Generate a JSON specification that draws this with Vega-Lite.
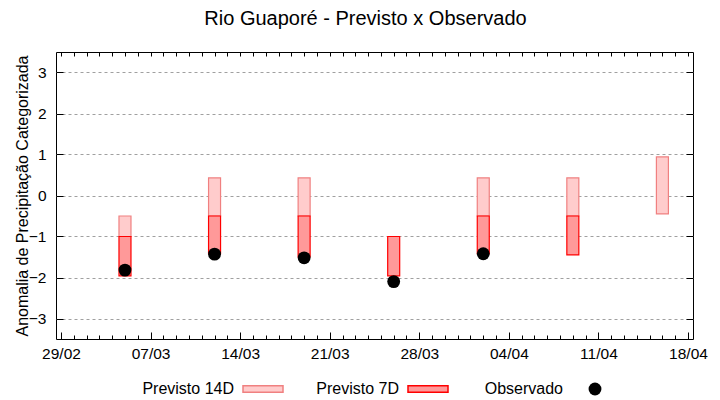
{
  "$schema": "https://vega.github.io/schema/vega-lite/v6.json",
  "width": 637,
  "height": 287,
  "padding": {"left": 14, "top": 8, "right": 5, "bottom": 0},
  "background": "white",
  "title": {"text": "Rio Guaporé - Previsto x Observado", "font": "Liberation Sans", "fontSize": 20, "fontWeight": "normal", "color": "#000000", "anchor": "middle", "dx": -9, "offset": 23},
  "config": {
    "view": {"stroke": "#000000", "strokeWidth": 1},
    "font": "Liberation Sans",
    "axis": {"labelFont": "Liberation Sans", "titleFont": "Liberation Sans", "labelColor": "#000000", "titleColor": "#000000", "domain": false, "tickColor": "#000000"},
    "legend": {"labelFont": "Liberation Sans", "labelFontSize": 16, "labelColor": "#000000", "title": null}
  },
  "data": {"values": [
    {"data": "2024-03-05", "serie": "Previsto 14D", "lo": -1.0, "hi": -0.5},
    {"data": "2024-03-12", "serie": "Previsto 14D", "lo": -0.5, "hi": 0.43},
    {"data": "2024-03-19", "serie": "Previsto 14D", "lo": -0.5, "hi": 0.43},
    {"data": "2024-04-02", "serie": "Previsto 14D", "lo": -0.5, "hi": 0.43},
    {"data": "2024-04-09", "serie": "Previsto 14D", "lo": -0.5, "hi": 0.43},
    {"data": "2024-04-16", "serie": "Previsto 14D", "lo": -0.45, "hi": 0.94},
    {"data": "2024-03-05", "serie": "Previsto 7D", "lo": -1.96, "hi": -1.0},
    {"data": "2024-03-12", "serie": "Previsto 7D", "lo": -1.42, "hi": -0.5},
    {"data": "2024-03-19", "serie": "Previsto 7D", "lo": -1.5, "hi": -0.5},
    {"data": "2024-03-26", "serie": "Previsto 7D", "lo": -1.96, "hi": -1.0},
    {"data": "2024-04-02", "serie": "Previsto 7D", "lo": -1.42, "hi": -0.5},
    {"data": "2024-04-09", "serie": "Previsto 7D", "lo": -1.45, "hi": -0.5},
    {"data": "2024-03-05", "tipo": "Observado", "valor": -1.82},
    {"data": "2024-03-12", "tipo": "Observado", "valor": -1.43},
    {"data": "2024-03-19", "tipo": "Observado", "valor": -1.52},
    {"data": "2024-03-26", "tipo": "Observado", "valor": -2.1},
    {"data": "2024-04-02", "tipo": "Observado", "valor": -1.42}
  ]},
  "layer": [
    {
      "transform": [{"filter": "datum.serie === 'Previsto 14D'"}],
      "mark": {"type": "bar", "size": 12, "strokeWidth": 1.2},
      "encoding": {
        "x": {"field": "data", "type": "temporal", "scale": {"type": "utc", "domain": [{"year": 2024, "month": 2, "date": 29, "utc": true}, {"year": 2024, "month": 4, "date": 18, "utc": true}]}, "axis": {"orient": "bottom", "values": [
          {"year": 2024, "month": 2, "date": 29, "utc": true},
          {"year": 2024, "month": 3, "date": 7, "utc": true},
          {"year": 2024, "month": 3, "date": 14, "utc": true},
          {"year": 2024, "month": 3, "date": 21, "utc": true},
          {"year": 2024, "month": 3, "date": 28, "utc": true},
          {"year": 2024, "month": 4, "date": 4, "utc": true},
          {"year": 2024, "month": 4, "date": 11, "utc": true},
          {"year": 2024, "month": 4, "date": 18, "utc": true}],
          "format": "%d/%m", "title": null, "grid": false, "tickSize": -7, "labelPadding": 14, "labelFontSize": 15.5, "labelFlush": false, "labelOverlap": false}},
        "y": {"field": "lo", "type": "quantitative", "scale": {"domain": [-3.5, 3.5], "nice": false, "zero": false}, "axis": {"orient": "left", "values": [-3, -2, -1, 0, 1, 2, 3], "title": "Anomalia de Precipitação Categorizada", "titleFontSize": 16, "titleFontWeight": "normal", "titlePadding": -2, "labelFontSize": 15.5, "tickSize": -7, "labelPadding": 17, "grid": true, "gridColor": "#a0a0a0", "gridDash": [3, 3], "gridWidth": 1}},
        "y2": {"field": "hi"},
        "fill": {"field": "serie", "type": "nominal", "scale": {"domain": ["Previsto 14D", "Previsto 7D"], "range": ["#ffcccc", "#ff9999"]},
          "legend": {"orient": "none", "legendX": 186, "legendY": 316, "direction": "horizontal", "symbolType": "M-1,-0.16H1V0.16H-1Z", "symbolSize": 1600, "symbolStrokeWidth": 1.5, "labelAlign": "right", "labelOffset": -50, "columnPadding": 30, "labelLimit": 200}},
        "stroke": {"field": "serie", "type": "nominal", "scale": {"domain": ["Previsto 14D", "Previsto 7D"], "range": ["#f08080", "#ff0000"]},
          "legend": {"orient": "none", "legendX": 186, "legendY": 316, "direction": "horizontal", "symbolType": "M-1,-0.16H1V0.16H-1Z", "symbolSize": 1600, "symbolStrokeWidth": 1.5, "labelAlign": "right", "labelOffset": -50, "columnPadding": 30, "labelLimit": 200}}
      }
    },
    {
      "transform": [{"filter": "datum.serie === 'Previsto 7D'"}],
      "mark": {"type": "bar", "size": 12, "strokeWidth": 1.2},
      "encoding": {
        "x": {"field": "data", "type": "temporal", "axis": {"orient": "bottom", "tickCount": {"interval": "day", "step": 1}, "labels": false, "title": null, "grid": false, "tickSize": -4}},
        "y": {"field": "lo", "type": "quantitative", "axis": {"orient": "right", "values": [-3, -2, -1, 0, 1, 2, 3], "labels": false, "title": null, "grid": false, "tickSize": -7}},
        "y2": {"field": "hi"},
        "fill": {"field": "serie", "type": "nominal"},
        "stroke": {"field": "serie", "type": "nominal"}
      }
    },
    {
      "transform": [{"filter": "datum.tipo === 'Observado'"}],
      "mark": {"type": "point", "filled": true, "size": 165, "opacity": 1, "color": "#000000"},
      "encoding": {
        "x": {"field": "data", "type": "temporal", "axis": {"orient": "top", "tickCount": {"interval": "day", "step": 1}, "labels": false, "title": null, "grid": false, "tickSize": -4}},
        "y": {"field": "valor", "type": "quantitative", "axis": null},
        "shape": {"field": "tipo", "type": "nominal", "scale": {"domain": ["Observado"], "range": ["circle"]},
          "legend": {"orient": "none", "legendX": 531, "legendY": 329, "symbolSize": 165, "symbolFillColor": "#000000", "symbolStrokeColor": "#000000", "labelAlign": "right", "labelOffset": -40, "labelLimit": 200}}
      }
    }
  ],
  "resolve": {"axis": {"x": "independent", "y": "independent"}}
}
